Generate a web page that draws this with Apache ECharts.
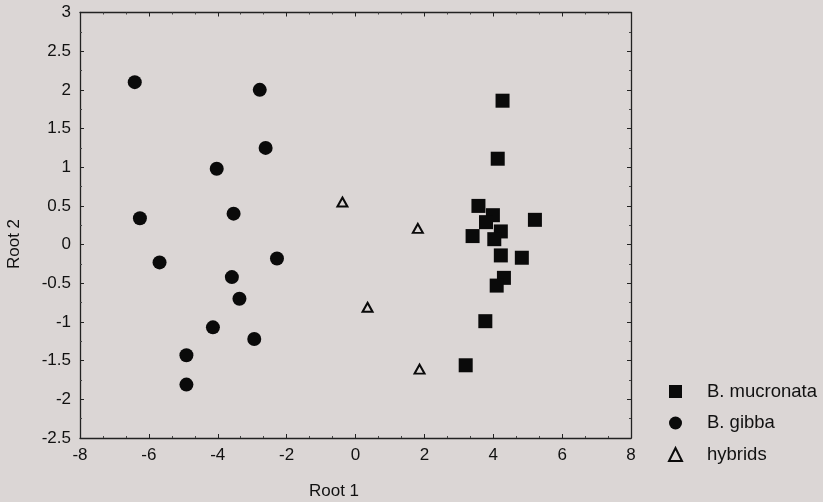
<!DOCTYPE html>
<html>
<head>
<meta charset="utf-8">
<script src="https://cdn.jsdelivr.net/npm/echarts@6/dist/echarts.min.js"></script>
<style>
html,body{margin:0;padding:0;background:#dbd6d5;}
#c{width:823px;height:502px;}
</style>
</head>
<body>
<div id="c"></div>
<script>
// Data (Root 1, Root 2)
const mucronata = [
  [4.27, 1.86], [4.13, 1.11], [3.57, 0.50], [3.99, 0.38], [3.79, 0.29],
  [5.21, 0.32], [3.40, 0.11], [4.22, 0.17], [4.03, 0.07], [4.22, -0.14],
  [4.83, -0.17], [4.31, -0.43], [4.10, -0.53], [3.77, -0.99], [3.20, -1.56]
];
const gibba = [
  [-6.41, 2.10], [-2.78, 2.00], [-2.61, 1.25], [-4.03, 0.98], [-6.26, 0.34],
  [-3.54, 0.40], [-5.69, -0.23], [-2.28, -0.18], [-3.59, -0.42], [-3.37, -0.70],
  [-4.14, -1.07], [-2.94, -1.22], [-4.91, -1.43], [-4.91, -1.81]
];
const hybrids = [
  [-0.38, 0.55], [1.81, 0.21], [0.35, -0.81], [1.86, -1.61]
];
const seriesNames = ['B. mucronata', 'B. gibba', 'hybrids'];
const xTitle = 'Root 1';
const yTitle = 'Root 2';

const BG = '#dbd6d5';
const INK = '#111';
const FONT = '"Liberation Sans", Arial, sans-serif';

const chart = echarts.init(document.getElementById('c'), null, {renderer: 'canvas'});

const axisCommon = {
  axisLine: {show: true, onZero: false, lineStyle: {color: '#222', width: 1.3}},
  axisTick: {show: true, inside: true, length: 4, lineStyle: {color: '#222', width: 1}},
  minorTick: {show: true, length: 2, lineStyle: {color: '#444', width: 1}},
  splitLine: {show: false}
};

chart.setOption({
  backgroundColor: BG,
  animation: false,
  grid: {left: 80, right: 192, top: 12.5, bottom: 64, containLabel: false},
  xAxis: [
    Object.assign({}, axisCommon, {
      type: 'value', min: -8, max: 8, interval: 2, position: 'bottom',
      minorTick: Object.assign({}, axisCommon.minorTick, {splitNumber: 3}),
      axisLabel: {color: INK, fontSize: 17, fontFamily: FONT, margin: 9}
    }),
    Object.assign({}, axisCommon, {
      type: 'value', min: -8, max: 8, interval: 2, position: 'top',
      minorTick: Object.assign({}, axisCommon.minorTick, {splitNumber: 3}),
      axisLabel: {show: false}
    })
  ],
  yAxis: [
    Object.assign({}, axisCommon, {
      type: 'value', min: -2.5, max: 3, interval: 0.5, position: 'left',
      minorTick: Object.assign({}, axisCommon.minorTick, {splitNumber: 2}),
      axisLabel: {color: INK, fontSize: 17, fontFamily: FONT, margin: 9}
    }),
    Object.assign({}, axisCommon, {
      type: 'value', min: -2.5, max: 3, interval: 0.5, position: 'right',
      minorTick: Object.assign({}, axisCommon.minorTick, {splitNumber: 2}),
      axisLabel: {show: false}
    })
  ],
  legend: {
    orient: 'vertical',
    left: 663, top: 377,
    itemWidth: 13, itemHeight: 13,
    itemGap: 12.5,
    textStyle: {color: INK, fontSize: 18.5, fontFamily: FONT, padding: [0, 0, 0, 20]},
    data: seriesNames
  },
  series: [
    {
      name: seriesNames[0], type: 'scatter', data: mucronata,
      symbol: 'rect', symbolSize: 14,
      itemStyle: {color: '#0a0a0a', opacity: 1}
    },
    {
      name: seriesNames[1], type: 'scatter', data: gibba,
      symbol: 'circle', symbolSize: 14,
      itemStyle: {color: '#0a0a0a', opacity: 1}
    },
    {
      name: seriesNames[2], type: 'scatter', data: hybrids,
      symbol: 'triangle', symbolSize: [10, 9],
      itemStyle: {color: BG, borderColor: '#0a0a0a', borderWidth: 2, opacity: 1}
    }
  ],
  graphic: [
    {
      type: 'text', x: 334, y: 491,
      style: {text: xTitle, font: '17px ' + FONT, fill: INK, textAlign: 'center', textVerticalAlign: 'middle', align: 'center', verticalAlign: 'middle'}
    },
    {
      type: 'text', x: 14.5, y: 244, rotation: Math.PI / 2,
      style: {text: yTitle, font: '17px ' + FONT, fill: INK, textAlign: 'center', textVerticalAlign: 'middle', align: 'center', verticalAlign: 'middle'}
    }
  ]
});
</script>
</body>
</html>
